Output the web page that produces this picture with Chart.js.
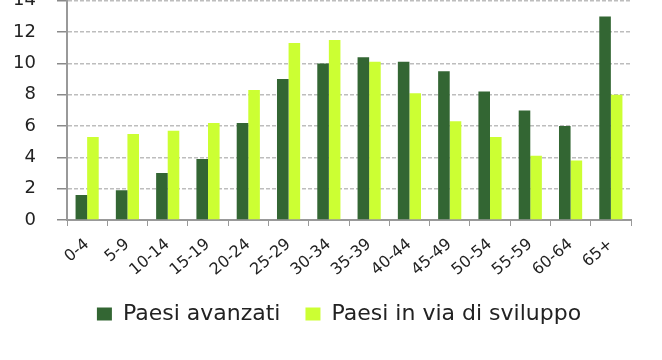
<!DOCTYPE html>
<html>
<head>
<meta charset="utf-8">
<script src="https://cdn.jsdelivr.net/npm/chart.js@4"></script>
<style>
  html, body { margin: 0; padding: 0; background: #fff; overflow: hidden; }
  #wrap { position: absolute; left: 0; top: -31px; width: 678px; height: 373px; }
</style>
</head>
<body>
<div id="wrap"><canvas id="c" width="678" height="373"></canvas></div>
<script>
const categories = ["0-4","5-9","10-14","15-19","20-24","25-29","30-34","35-39","40-44","45-49","50-54","55-59","60-64","65+"];
const paesiAvanzati = [1.6, 1.9, 3.0, 3.9, 6.2, 9.0, 10.0, 10.4, 10.1, 9.5, 8.2, 7.0, 6.0, 13.0];
const paesiInViaDiSviluppo = [5.3, 5.5, 5.7, 6.2, 8.3, 11.3, 11.5, 10.1, 8.1, 6.3, 5.3, 4.1, 3.8, 8.0];
const yTicks = [0, 2, 4, 6, 8, 10, 12, 14];
const seriesNames = ["Paesi avanzati", "Paesi in via di sviluppo"];

const FONT = "'DejaVu Sans', 'Open Sans', sans-serif";

new Chart(document.getElementById('c'), {
  type: 'bar',
  data: {
    labels: categories,
    datasets: [
      { label: seriesNames[0], data: paesiAvanzati, backgroundColor: '#336633', borderWidth: 0 },
      { label: seriesNames[1], data: paesiInViaDiSviluppo, backgroundColor: '#CCFF33', borderWidth: 0 }
    ]
  },
  options: {
    responsive: false,
    animation: false,
    devicePixelRatio: 1,
    datasets: { bar: { categoryPercentage: 0.575, barPercentage: 1.0 } },
    layout: { padding: { left: 0, right: 0, top: 0, bottom: 7 } },
    plugins: {
      tooltip: { enabled: false },
      legend: {
        position: 'bottom',
        labels: {
          boxWidth: 15, boxHeight: 13, padding: 25,
          color: '#222', font: { family: FONT, size: 22 }
        }
      }
    },
    scales: {
      x: {
        grid: { display: true, drawOnChartArea: false, drawTicks: true, tickLength: 6, color: '#999', tickColor: '#999', offset: true },
        border: { display: true, color: '#999', width: 2 },
        ticks: { color: '#222', font: { family: FONT, size: 16 }, maxRotation: 40, minRotation: 40, padding: 9 },
        afterFit: (s) => { s.height = 58; }
      },
      y: {
        min: 0, max: 14,
        afterBuildTicks: (s) => { s.ticks = yTicks.map(v => ({ value: v })); },
        grid: { color: '#bdbdbd', lineWidth: 1.5, tickLength: 10, tickColor: '#8a8a8a', tickBorderDash: [], drawTicks: true },
        border: { display: true, color: '#999', width: 2, dash: [4, 2] },
        ticks: { color: '#222', font: { family: FONT, size: 18 }, padding: 21 },
        afterFit: (s) => { s.width = 67; }
      },
      yRightSpacer: {
        type: 'linear', position: 'right', display: true,
        grid: { display: false, drawOnChartArea: false, drawTicks: false },
        border: { display: false },
        ticks: { display: false },
        afterFit: (s) => { s.width = 47; }
      }
    }
  }
});
</script>
</body>
</html>
